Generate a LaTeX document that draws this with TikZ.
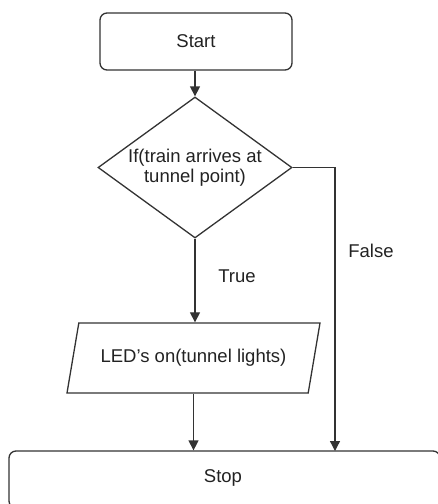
\documentclass[tikz,border=0pt]{standalone}
\usepackage{fontspec}
\setmainfont{Liberation Sans}
\usetikzlibrary{shapes.geometric,arrows.meta}
\definecolor{ln}{HTML}{333333}
\definecolor{tx}{HTML}{222222}
\begin{document}
\begin{tikzpicture}[x=1pt,y=-1pt,
  every node/.style={font=\fontsize{18.5}{20.5}\selectfont, text=tx},
  shp/.style={draw=ln, line width=1.3pt, inner sep=0pt},
  term/.style={shp, rectangle, rounded corners=7pt, minimum width=192pt, minimum height=57pt},
  dec/.style={shp, diamond, aspect=1.366, minimum width=194pt, minimum height=141pt, align=center},
  io/.style={shp, trapezium, trapezium left angle=55.6, trapezium right angle=124.4, trapezium stretches body, minimum width=253pt, minimum height=70pt},
  arr/.style={draw=ln, line width=1.3pt, -{Triangle[length=10pt,width=10pt]}},
  lbl/.style={inner sep=0pt}]
\useasboundingbox (0,0) rectangle (437,504);
\node[term] (start) at (196,41.5) {Start};
\node[dec] (dia) at (195,167.5) {If(train arrives at\\tunnel point)};
\node[io] (para) at (193.5,358) {LED's on(tunnel lights)};
\node[term, minimum width=431pt] (stop) at (224.5,479.5) {};
\node[lbl] (stoptxt) at (223,478) {Stop};
\coordinate (fend) at (335,451);
\draw[arr] (start.south -| dia.north) -- (dia.north);
\draw[arr] (dia.south) -- (dia.south |- para.north);
\draw[arr] (para.south) -- (para.south |- stop.north);
\draw[arr] (dia.east) -| (fend);
\node[lbl] (true) at (237,276) {True};
\node[lbl] (false) at (371,251) {False};
\end{tikzpicture}
\end{document}
